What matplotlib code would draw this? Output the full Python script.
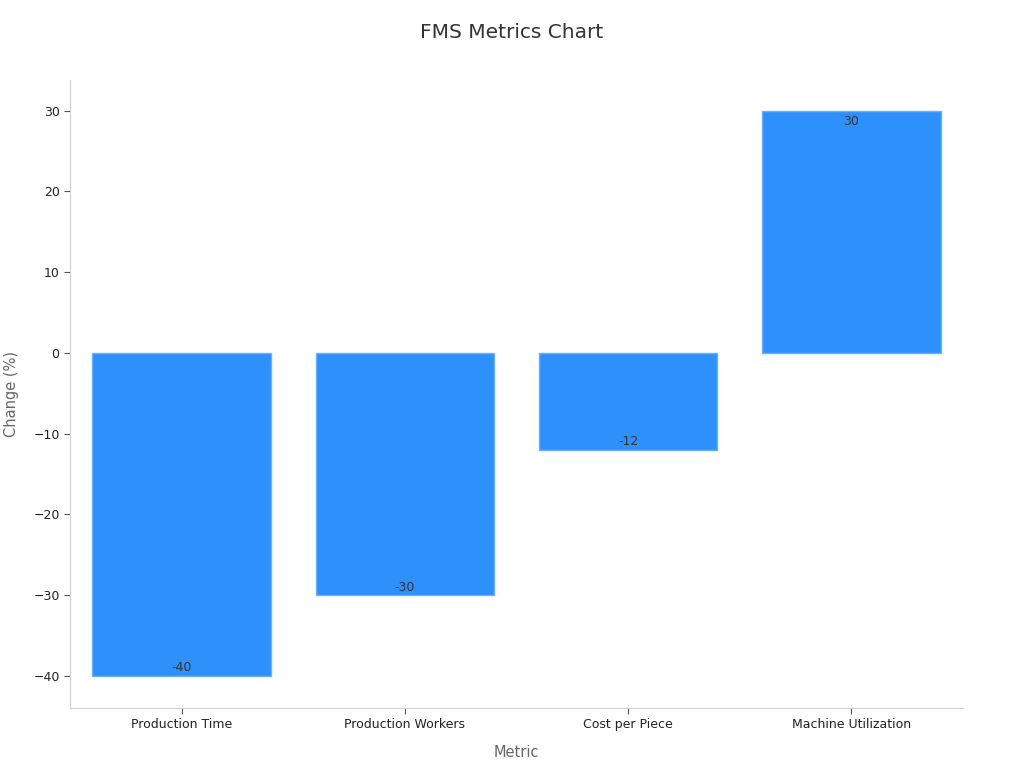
import matplotlib.pyplot as plt

metrics = ["Production Time", "Production Workers", "Cost per Piece", "Machine Utilization"]
changes = [-40, -30, -12, 30]

fig = plt.figure(figsize=(10.24, 7.68), dpi=100)
ax = fig.add_axes([0.0684, 0.0781, 0.872, 0.8177])

bars = ax.bar(metrics, changes, width=0.8, color="#2E90FA", edgecolor="#6BB0FB", linewidth=1)

# value labels inside the bar end
for rect, v in zip(bars, changes):
    x = rect.get_x() + rect.get_width() / 2
    if v < 0:
        ax.annotate(f"{v}", (x, v), xytext=(0, 1), textcoords="offset points",
                    ha="center", va="bottom", fontsize=9, color="#333333")
    else:
        ax.annotate(f"{v}", (x, v), xytext=(0, -3), textcoords="offset points",
                    ha="center", va="top", fontsize=9, color="#333333")

ax.set_xlim(-0.5, 3.5)
ax.set_ylim(-44, 33.8)
ax.set_yticks([-40, -30, -20, -10, 0, 10, 20, 30])

for side in ["top", "right"]:
    ax.spines[side].set_visible(False)
for side in ["left", "bottom"]:
    ax.spines[side].set_color("#d0d0d0")

ax.tick_params(axis="both", colors="#555555", labelcolor="#222222", labelsize=9, length=4)

ax.set_xlabel("Metric", fontsize=10.5, color="#666666", labelpad=10)
ax.set_ylabel("Change (%)", fontsize=10.5, color="#666666", labelpad=10)
fig.suptitle("FMS Metrics Chart", fontsize=14.5, color="#333333", y=0.97)

fig.savefig("out.png", dpi=100)
